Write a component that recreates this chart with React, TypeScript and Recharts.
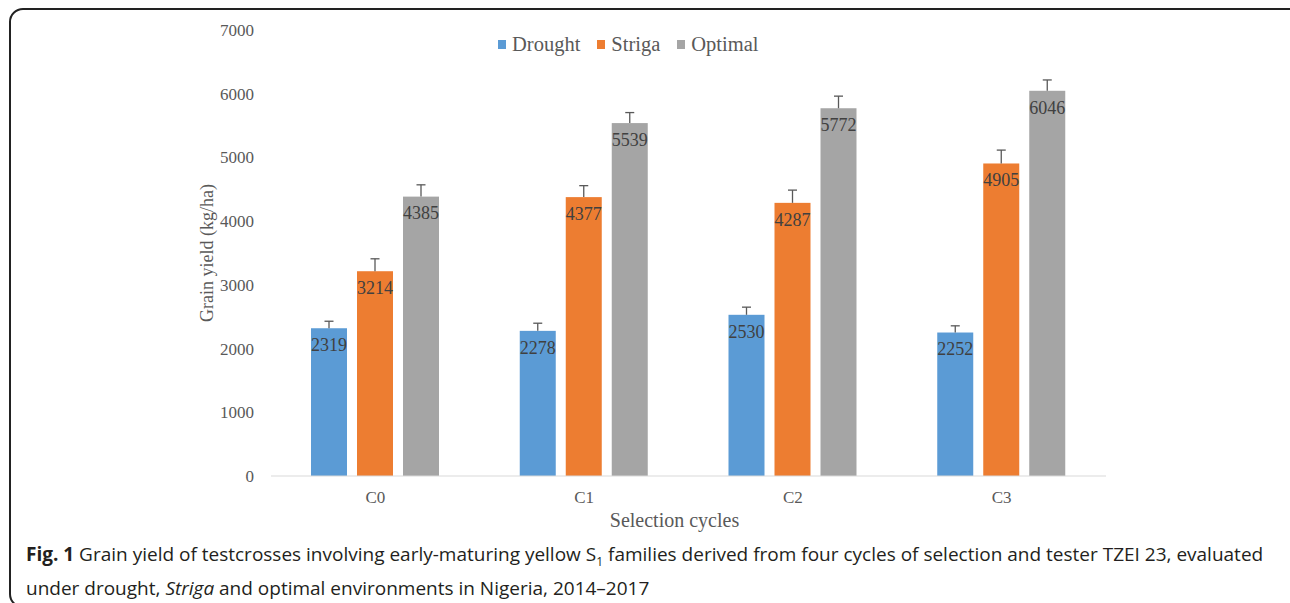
import React from "react";
import { BarChart, Bar, XAxis, YAxis, Legend, LabelList } from "recharts";

// selection cycles
const cycles = ["C0", "C1", "C2", "C3"];

// grain yield (kg/ha) per environment
const drought = [2319, 2278, 2530, 2252];
const striga = [3214, 4377, 4287, 4905];
const optimal = [4385, 5539, 5772, 6046];

// standard errors
const droughtErr = [110, 120, 120, 105];
const strigaErr = [195, 180, 200, 210];
const optimalErr = [185, 165, 190, 170];

const yTicks = [0, 1000, 2000, 3000, 4000, 5000, 6000, 7000];

const series = [
  { key: "drought", name: "Drought", color: "#5B9BD5" },
  { key: "striga", name: "Striga", color: "#ED7D31" },
  { key: "optimal", name: "Optimal", color: "#A5A5A5" },
];

const data = cycles.map((c, i) => ({
  cycle: c,
  drought: drought[i],
  striga: striga[i],
  optimal: optimal[i],
  droughtErr: droughtErr[i],
  strigaErr: strigaErr[i],
  optimalErr: optimalErr[i],
}));

const SERIF = "'Liberation Serif', 'Times New Roman', serif";

// bar + one-sided whisker, the whisker scaled the same way as the bar
const makeShape = (key: string) => (props: any) => {
  const { x, y, width, height, fill, payload } = props;
  const v = payload[key];
  const err = payload[key + "Err"];
  const e = v ? (err * height) / v : 0;
  const cx = x + width / 2;
  return (
    <g>
      <rect x={x} y={y} width={width} height={height} fill={fill} />
      <line x1={cx} x2={cx} y1={y} y2={y - e} stroke="#595959" strokeWidth={1.3} />
      <line x1={cx - 4.5} x2={cx + 4.5} y1={y - e} y2={y - e} stroke="#595959" strokeWidth={1.3} />
    </g>
  );
};

const renderLegend = () => (
  <div style={{ display: "flex", fontFamily: SERIF, fontSize: 20.5, color: "#595959", lineHeight: "20px" }}>
    {series.map((s) => (
      <div key={s.key} style={{ display: "flex", alignItems: "center", marginRight: 17 }}>
        <span style={{ width: 8, height: 9, background: s.color, display: "inline-block", marginRight: 6 }} />
        <span>{s.name}</span>
      </div>
    ))}
  </div>
);

export default function App() {
  return (
    <div style={{ position: "absolute", left: 0, top: 0, width: 1290, height: 603, background: "#fff", overflow: "hidden" }}>
      <div
        style={{
          position: "absolute",
          left: 9,
          top: 8,
          width: 1300,
          height: 600,
          border: "2px solid #222",
          borderRadius: 14,
          boxSizing: "border-box",
        }}
      />
      <div style={{ position: "absolute", left: 0, top: 0 }}>
        <BarChart
          width={1290}
          height={603}
          data={data}
          margin={{ top: 30, right: 184, left: 191, bottom: 67 }}
          barSize={36}
          barGap={10}
        >
          <XAxis
            dataKey="cycle"
            height={60}
            tickLine={false}
            tickSize={0}
            tickMargin={15}
            axisLine={{ stroke: "#d9d9d9", strokeWidth: 1 }}
            tick={{ fill: "#595959", fontSize: 17, fontFamily: SERIF }}
            label={{
              value: "Selection cycles",
              position: "insideBottom",
              offset: 9,
              dx: -14,
              fill: "#595959",
              fontSize: 20,
              fontFamily: SERIF,
            }}
          />
          <YAxis
            width={80}
            domain={[0, 7000]}
            ticks={yTicks}
            axisLine={false}
            tickLine={false}
            tickSize={0}
            tickMargin={17}
            tick={{ fill: "#595959", fontSize: 17, fontFamily: SERIF }}
            label={{
              value: "Grain yield (kg/ha)",
              angle: -90,
              position: "insideLeft",
              offset: 16,
              fill: "#595959",
              fontSize: 18,
              fontFamily: SERIF,
              style: { textAnchor: "middle" },
            }}
          />
          <Legend
            verticalAlign="middle"
            content={renderLegend}
            wrapperStyle={{ position: "absolute", top: 34, left: 498, width: "auto" }}
          />
          {series.map((s) => (
            <Bar
              key={s.key}
              dataKey={s.key}
              name={s.name}
              fill={s.color}
              isAnimationActive={false}
              shape={makeShape(s.key)}
            >
              <LabelList
                dataKey={s.key}
                position="insideTop"
                offset={10}
                fill="#404040"
                fontSize={18}
                fontFamily={SERIF}
              />
            </Bar>
          ))}
        </BarChart>
      </div>
      <div
        style={{
          position: "absolute",
          left: 26,
          top: 541,
          fontFamily: "'Open Sans', 'Noto Sans', sans-serif",
          fontSize: 19,
          lineHeight: "26px",
          color: "#231f20",
          whiteSpace: "nowrap",
        }}
      >
        <b>Fig. 1</b> Grain yield of testcrosses involving early-maturing yellow S<sub style={{ fontSize: 12 }}>1</sub>{" "}
        families derived from four cycles of selection and tester TZEI 23, evaluated
        <br />
        under drought, <i>Striga</i> and optimal environments in Nigeria, 2014–2017
      </div>
    </div>
  );
}
